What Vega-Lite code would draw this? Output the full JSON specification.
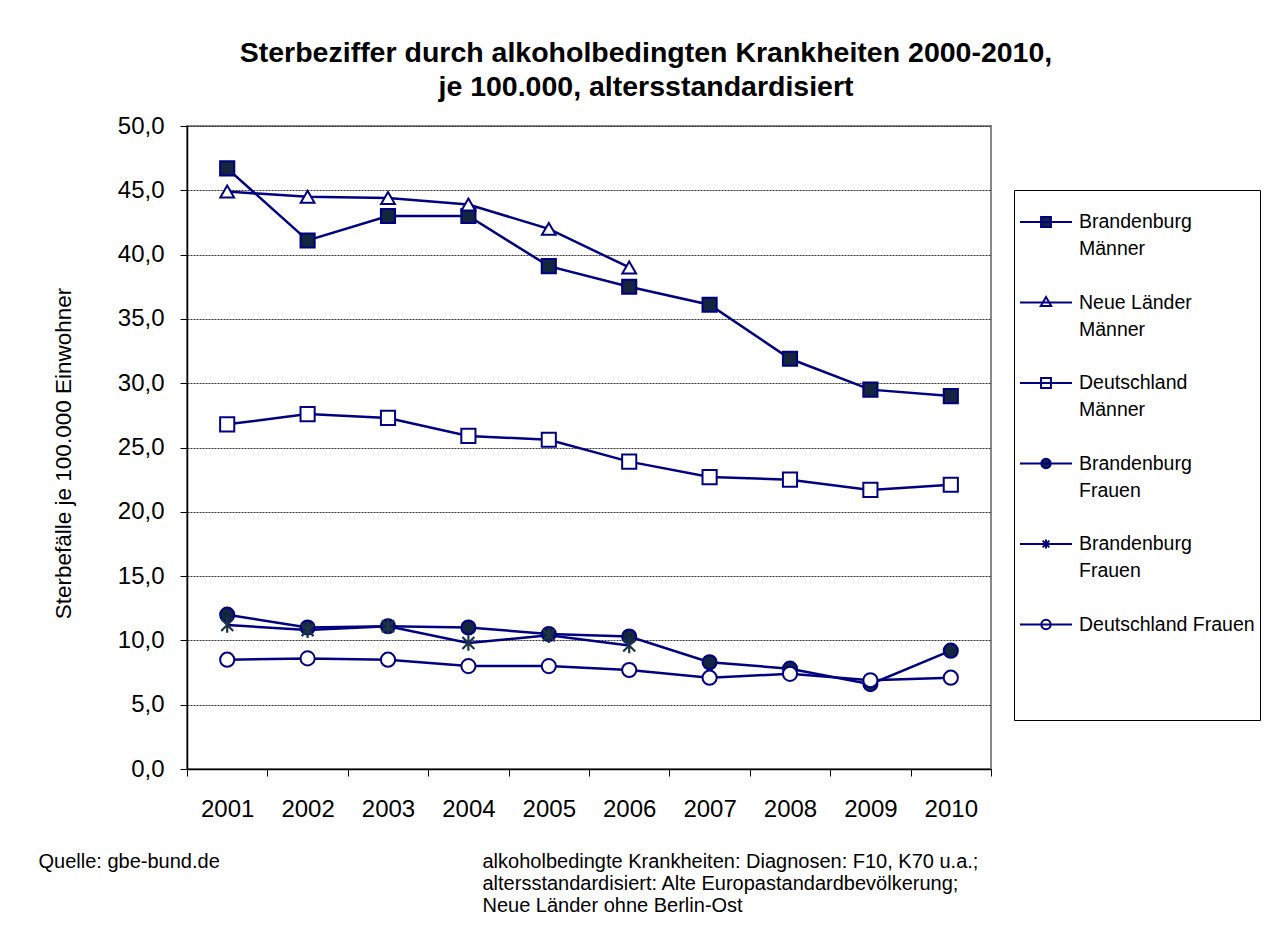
{
  "$schema": "https://vega.github.io/schema/vega-lite/v6.json",
  "width": 804,
  "height": 643,
  "autosize": {"type": "none"},
  "padding": {"left": 187, "top": 126, "right": 273, "bottom": 159},
  "background": "white",
  "config": {
    "font": "Liberation Sans",
    "locale": {"number": {"decimal": ",", "thousands": ".", "grouping": [3], "currency": ["", " €"]}},
    "view": {"stroke": "#888888", "strokeWidth": 2},
    "style": {"guide-label": {"lineHeight": 27}}
  },
  "title": {
    "text": ["Sterbeziffer durch alkoholbedingten Krankheiten 2000-2010,", "je 100.000, altersstandardisiert"],
    "fontSize": 28.5,
    "fontWeight": "bold",
    "color": "black",
    "anchor": "middle",
    "lineHeight": 34,
    "dx": 57,
    "offset": 13
  },
  "data": {
    "values": [
      {"year": "2001", "series": "Brandenburg Männer", "value": 46.7},
      {"year": "2002", "series": "Brandenburg Männer", "value": 41.1},
      {"year": "2003", "series": "Brandenburg Männer", "value": 43.0},
      {"year": "2004", "series": "Brandenburg Männer", "value": 43.0},
      {"year": "2005", "series": "Brandenburg Männer", "value": 39.1},
      {"year": "2006", "series": "Brandenburg Männer", "value": 37.5},
      {"year": "2007", "series": "Brandenburg Männer", "value": 36.1},
      {"year": "2008", "series": "Brandenburg Männer", "value": 31.9},
      {"year": "2009", "series": "Brandenburg Männer", "value": 29.5},
      {"year": "2010", "series": "Brandenburg Männer", "value": 29.0},
      {"year": "2001", "series": "Neue Länder Männer", "value": 44.9},
      {"year": "2002", "series": "Neue Länder Männer", "value": 44.5},
      {"year": "2003", "series": "Neue Länder Männer", "value": 44.4},
      {"year": "2004", "series": "Neue Länder Männer", "value": 43.9},
      {"year": "2005", "series": "Neue Länder Männer", "value": 42.0},
      {"year": "2006", "series": "Neue Länder Männer", "value": 39.0},
      {"year": "2001", "series": "Deutschland Männer", "value": 26.8},
      {"year": "2002", "series": "Deutschland Männer", "value": 27.6},
      {"year": "2003", "series": "Deutschland Männer", "value": 27.3},
      {"year": "2004", "series": "Deutschland Männer", "value": 25.9},
      {"year": "2005", "series": "Deutschland Männer", "value": 25.6},
      {"year": "2006", "series": "Deutschland Männer", "value": 23.9},
      {"year": "2007", "series": "Deutschland Männer", "value": 22.7},
      {"year": "2008", "series": "Deutschland Männer", "value": 22.5},
      {"year": "2009", "series": "Deutschland Männer", "value": 21.7},
      {"year": "2010", "series": "Deutschland Männer", "value": 22.1},
      {"year": "2001", "series": "Brandenburg Frauen", "value": 12.0},
      {"year": "2002", "series": "Brandenburg Frauen", "value": 11.0},
      {"year": "2003", "series": "Brandenburg Frauen", "value": 11.1},
      {"year": "2004", "series": "Brandenburg Frauen", "value": 11.0},
      {"year": "2005", "series": "Brandenburg Frauen", "value": 10.5},
      {"year": "2006", "series": "Brandenburg Frauen", "value": 10.3},
      {"year": "2007", "series": "Brandenburg Frauen", "value": 8.3},
      {"year": "2008", "series": "Brandenburg Frauen", "value": 7.8},
      {"year": "2009", "series": "Brandenburg Frauen", "value": 6.6},
      {"year": "2010", "series": "Brandenburg Frauen", "value": 9.2},
      {"year": "2001", "series": "Neue Länder Frauen", "value": 11.2},
      {"year": "2002", "series": "Neue Länder Frauen", "value": 10.8},
      {"year": "2003", "series": "Neue Länder Frauen", "value": 11.1},
      {"year": "2004", "series": "Neue Länder Frauen", "value": 9.8},
      {"year": "2005", "series": "Neue Länder Frauen", "value": 10.4},
      {"year": "2006", "series": "Neue Länder Frauen", "value": 9.6},
      {"year": "2001", "series": "Deutschland Frauen", "value": 8.5},
      {"year": "2002", "series": "Deutschland Frauen", "value": 8.6},
      {"year": "2003", "series": "Deutschland Frauen", "value": 8.5},
      {"year": "2004", "series": "Deutschland Frauen", "value": 8.0},
      {"year": "2005", "series": "Deutschland Frauen", "value": 8.0},
      {"year": "2006", "series": "Deutschland Frauen", "value": 7.7},
      {"year": "2007", "series": "Deutschland Frauen", "value": 7.1},
      {"year": "2008", "series": "Deutschland Frauen", "value": 7.4},
      {"year": "2009", "series": "Deutschland Frauen", "value": 6.9},
      {"year": "2010", "series": "Deutschland Frauen", "value": 7.1}
    ]
  },
  "layer": [
    {
      "mark": {"type": "line", "color": "#000080", "strokeWidth": 2.5},
      "encoding": {
        "x": {
          "field": "year",
          "type": "ordinal",
          "scale": {"type": "band", "paddingInner": 0, "paddingOuter": 0},
          "axis": {
            "orient": "bottom",
            "labelAngle": 0,
            "labelFontSize": 24,
            "labelColor": "black",
            "labelPadding": 21,
            "tickBand": "extent",
            "tickSize": 7,
            "tickColor": "black",
            "tickWidth": 1,
            "domainColor": "black",
            "domainWidth": 1.5,
            "grid": false,
            "title": "Quelle: gbe-bund.de",
            "titleFontSize": 20,
            "titleFontWeight": "normal",
            "titleColor": "black",
            "titleX": -149,
            "titleY": 82,
            "titleAlign": "left",
            "titleBaseline": "top",
            "titleAngle": 0
          }
        },
        "y": {
          "field": "value",
          "type": "quantitative",
          "scale": {"domain": [0, 50], "nice": false},
          "axis": {
            "values": [0, 5, 10, 15, 20, 25, 30, 35, 40, 45, 50],
            "format": ".1f",
            "labelFontSize": 24,
            "labelColor": "black",
            "labelPadding": 16,
            "labelFlush": false,
            "labelOverlap": false,
            "tickSize": 7,
            "tickColor": "black",
            "domainColor": "black",
            "domainWidth": 1.5,
            "grid": true,
            "gridColor": "#333333",
            "gridDash": [2, 1],
            "gridWidth": 1,
            "title": "Sterbefälle je 100.000 Einwohner",
            "titleFontSize": 22.5,
            "titleFontWeight": "normal",
            "titleColor": "black",
            "titlePadding": 42,
            "titleY": 327
          }
        },
        "detail": {"field": "series"}
      }
    },
    {
      "transform": [{"filter": "datum.series == 'Brandenburg Männer'"}],
      "mark": {"type": "point", "shape": "square", "filled": true, "fill": "#13253f", "stroke": "#000080", "strokeWidth": 2, "size": 200, "opacity": 1},
      "encoding": {
        "x": {
          "field": "year",
          "type": "ordinal",
          "axis": {
            "orient": "bottom",
            "labels": false,
            "ticks": false,
            "domain": false,
            "grid": false,
            "title": [" alkoholbedingte Krankheiten: Diagnosen: F10, K70 u.a.;", "altersstandardisiert: Alte Europastandardbevölkerung;", "Neue Länder ohne Berlin-Ost"],
            "titleFontSize": 20,
            "titleFontWeight": "normal",
            "titleColor": "black",
            "titleLineHeight": 22,
            "titleX": 295,
            "titleY": 82,
            "titleAlign": "left",
            "titleBaseline": "top",
            "titleAngle": 0
          }
        },
        "y": {"field": "value", "type": "quantitative"}
      }
    },
    {
      "transform": [{"filter": "datum.series == 'Neue Länder Männer'"}],
      "mark": {"type": "point", "shape": "triangle-up", "filled": true, "fill": "#ffffff", "stroke": "#000080", "strokeWidth": 2, "size": 190, "opacity": 1},
      "encoding": {
        "x": {"field": "year", "type": "ordinal", "axis": null},
        "y": {"field": "value", "type": "quantitative"}
      }
    },
    {
      "transform": [{"filter": "datum.series == 'Deutschland Männer'"}],
      "mark": {"type": "point", "shape": "square", "filled": true, "fill": "#ffffff", "stroke": "#000080", "strokeWidth": 2, "size": 200, "opacity": 1},
      "encoding": {
        "x": {"field": "year", "type": "ordinal", "axis": null},
        "y": {"field": "value", "type": "quantitative"}
      }
    },
    {
      "transform": [{"filter": "datum.series == 'Brandenburg Frauen'"}],
      "mark": {"type": "point", "shape": "circle", "filled": true, "fill": "#13253f", "stroke": "#000080", "strokeWidth": 2, "size": 200, "opacity": 1},
      "encoding": {
        "x": {"field": "year", "type": "ordinal", "axis": null},
        "y": {"field": "value", "type": "quantitative"}
      }
    },
    {
      "transform": [{"filter": "datum.series == 'Neue Länder Frauen'"}],
      "mark": {"type": "point", "shape": "M-0.85,-0.85L0.85,0.85M-0.85,0.85L0.85,-0.85M0,-1.1V1.1", "filled": false, "stroke": "#1c3348", "strokeWidth": 2.2, "size": 200, "opacity": 1},
      "encoding": {
        "x": {"field": "year", "type": "ordinal", "axis": null},
        "y": {"field": "value", "type": "quantitative"}
      }
    },
    {
      "transform": [{"filter": "datum.series == 'Deutschland Frauen'"}],
      "mark": {"type": "point", "shape": "circle", "filled": true, "fill": "#ffffff", "stroke": "#000080", "strokeWidth": 2, "size": 200, "opacity": 1},
      "encoding": {
        "x": {"field": "year", "type": "ordinal", "axis": null},
        "y": {"field": "value", "type": "quantitative"}
      }
    },
    {
      "transform": [{"filter": "false"}],
      "mark": {"type": "point", "filled": true, "strokeWidth": 2, "opacity": 1},
      "encoding": {
        "x": {"field": "year", "type": "ordinal", "axis": null},
        "y": {"field": "value", "type": "quantitative"},
        "shape": {
          "field": "series",
          "type": "nominal",
          "scale": {
            "domain": ["Brandenburg Männer", "Neue Länder Männer", "Deutschland Männer", "Brandenburg Frauen", "Neue Länder Frauen", "Deutschland Frauen"],
            "range": [
              "M-1,0H1M-0.19,-0.19H0.19V0.19H-0.19Z",
              "M-1,0H1M0,-0.21L0.2,0.13L-0.2,0.13Z",
              "M-1,0H1M-0.19,-0.19H0.19V0.19H-0.19Z",
              "M-1,0H1M0.18,0A0.18,0.18,0,1,1,-0.18,0A0.18,0.18,0,1,1,0.18,0Z",
              "M-1,0H1M-0.13,-0.13L0.13,0.13M-0.13,0.13L0.13,-0.13M0,-0.17V0.17",
              "M-1,0H1M0.18,0A0.18,0.18,0,1,1,-0.18,0A0.18,0.18,0,1,1,0.18,0Z"
            ]
          },
          "legend": {
            "orient": "none",
            "legendX": 827,
            "legendY": 64,
            "title": null,
            "padding": 5,
            "strokeColor": "black",
            "fillColor": "white",
            "symbolSize": 2704,
            "symbolStrokeWidth": 2,
            "symbolOpacity": 1,
            "labelFontSize": 19.5,
            "labelColor": "black",
            "labelOffset": 6,
            "labelLimit": 300,
            "labelBaseline": "middle",
            "rowPadding": 16.5,
            "labelExpr": "datum.value == 'Brandenburg Männer' ? ['Brandenburg', 'Männer'] : datum.value == 'Neue Länder Männer' ? ['Neue Länder', 'Männer'] : datum.value == 'Deutschland Männer' ? ['Deutschland', 'Männer'] : datum.value == 'Deutschland Frauen' ? ['Deutschland Frauen', '', '', ''] : ['Brandenburg', 'Frauen']",
            "encode": {
              "symbols": {"update": {"size": {"value": 2704}, "strokeWidth": {"value": 2}}}
            }
          }
        },
        "fill": {
          "field": "series",
          "type": "nominal",
          "scale": {
            "domain": ["Brandenburg Männer", "Neue Länder Männer", "Deutschland Männer", "Brandenburg Frauen", "Neue Länder Frauen", "Deutschland Frauen"],
            "range": ["#13253f", "#ffffff", "#ffffff", "#13253f", "#ffffff", "#ffffff"]
          }
        },
        "stroke": {
          "field": "series",
          "type": "nominal",
          "scale": {
            "domain": ["Brandenburg Männer", "Neue Länder Männer", "Deutschland Männer", "Brandenburg Frauen", "Neue Länder Frauen", "Deutschland Frauen"],
            "range": ["#000080", "#000080", "#000080", "#000080", "#000080", "#000080"]
          }
        }
      }
    }
  ],
  "resolve": {"axis": {"x": "independent"}}
}
